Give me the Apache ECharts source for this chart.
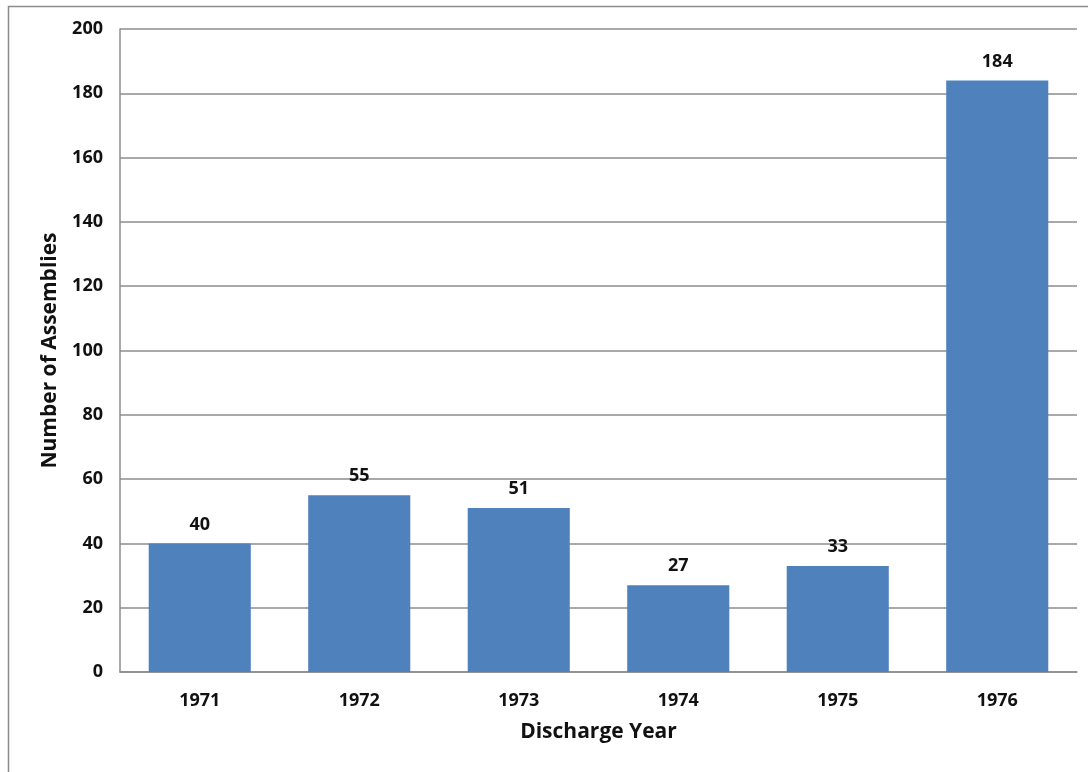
<!DOCTYPE html>
<html><head><meta charset="utf-8">
<script src="https://cdn.jsdelivr.net/npm/echarts@6/dist/echarts.min.js"></script>
<style>html,body{margin:0;padding:0;background:#fff}#c{width:1088px;height:772px}</style>
</head><body><div id="c"></div>
<script>
const categories = ['1971','1972','1973','1974','1975','1976'];
const values = [40, 55, 51, 27, 33, 184];
const yTicks = {min: 0, max: 200, interval: 20};

const chart = echarts.init(document.getElementById('c'), null, {renderer: 'canvas'});
const font = '"Open Sans", "Noto Sans", "DejaVu Sans", sans-serif';
chart.setOption({
  animation: false,
  backgroundColor: '#fff',
  graphic: [{
    type: 'rect', silent: true,
    shape: {x: 8.5, y: 6.5, width: 1200, height: 900},
    style: {fill: 'none', stroke: '#8c8c8c', lineWidth: 1.5}
  }],
  grid: {left: 120, top: 29, right: 11, bottom: 100, containLabel: false},
  xAxis: {
    type: 'category', data: categories,
    name: 'Discharge Year', nameLocation: 'middle', nameGap: 50,
    nameTextStyle: {fontFamily: font, fontWeight: 'bold', fontSize: 21, color: '#111'},
    axisLine: {show: true, lineStyle: {color: '#8c8c8c', width: 1.5}},
    axisTick: {show: false},
    axisLabel: {fontFamily: font, fontWeight: 'bold', fontSize: 18, color: '#111', margin: 20}
  },
  yAxis: {
    type: 'value', min: yTicks.min, max: yTicks.max, interval: yTicks.interval,
    name: 'Number of Assemblies', nameLocation: 'middle', nameGap: 59, nameRotate: 90,
    nameTextStyle: {fontFamily: font, fontWeight: 'bold', fontSize: 21, color: '#111'},
    axisLine: {show: true, lineStyle: {color: '#8c8c8c', width: 1.5}},
    axisTick: {show: false},
    axisLabel: {fontFamily: font, fontWeight: 'bold', fontSize: 18, color: '#111', margin: 17},
    splitLine: {show: true, lineStyle: {color: '#8c8c8c', width: 1.5}}
  },
  series: [{
    type: 'bar', data: values, barWidth: '64%',
    itemStyle: {color: '#4F81BD'},
    label: {show: true, position: 'top', distance: 10, fontFamily: font, fontWeight: 'bold', fontSize: 18, color: '#111'}
  }]
});
</script></body></html>
